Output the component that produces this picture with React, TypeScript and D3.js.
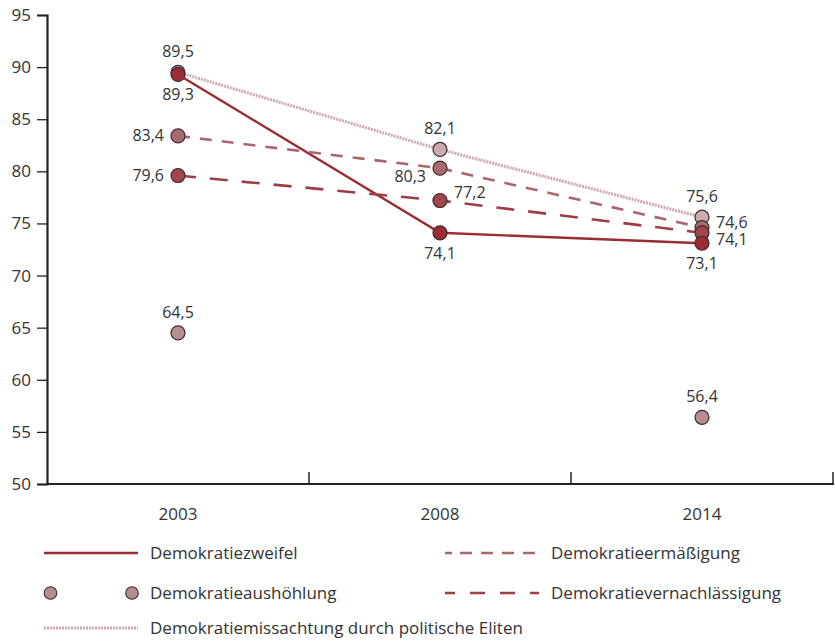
import React, { useEffect, useRef } from "react";
import * as d3 from "d3";

const years = ["2003", "2008", "2014"];
const yTicks = [50, 55, 60, 65, 70, 75, 80, 85, 90, 95];

const zweifel = [89.3, 74.1, 73.1];
const ermaessigung = [83.4, 80.3, 74.6];
const aushoehlung = [64.5, null, 56.4];
const vernachlaessigung = [79.6, 77.2, 74.1];
const missachtung = [89.5, 82.1, 75.6];

const seriesNames = [
  "Demokratiezweifel",
  "Demokratieermäßigung",
  "Demokratieaushöhlung",
  "Demokratievernachlässigung",
  "Demokratiemissachtung durch politische Eliten",
];

// where each value label sits relative to its point, per year
const labelSides = {
  zweifel: ["below", "below", "below"],
  ermaessigung: ["left", "belowleft", "right"],
  aushoehlung: ["above", "above", "above"],
  vernachlaessigung: ["left", "right", "rightlow"],
  missachtung: ["above", "above", "above"],
};

const W = 835;
const H = 641;
const font = "'Open Sans', 'Noto Sans', sans-serif";

const App = () => {
  const ref = useRef<SVGSVGElement>(null);

  useEffect(() => {
    const svg = d3.select(ref.current);
    svg.selectAll("*").remove();

    const x = d3.scaleBand().domain(years).range([47, 833]).padding(0);
    const y = d3.scaleLinear().domain([50, 95]).range([484, 15]);
    const cx = (i: number) => (x(years[i]) as number) + x.bandwidth() / 2;

    const series = [
      { key: "zweifel", values: zweifel, line: "#9b2c33", fill: "#9b2c33", dash: null, width: 2.4 },
      { key: "missachtung", values: missachtung, line: "#d0a9ae", fill: "#ccabae", dash: "2,1", width: 3 },
      { key: "ermaessigung", values: ermaessigung, line: "#a9666c", fill: "#a96a70", dash: "12,10", width: 2.6 },
      { key: "vernachlaessigung", values: vernachlaessigung, line: "#9f3d45", fill: "#a1464d", dash: "18,14", width: 2.6 },
      { key: "aushoehlung", values: aushoehlung, line: null, fill: "#b88d90", dash: null, width: 0 },
    ];

    // axes
    const yAxis = d3.axisLeft(y).tickValues(yTicks).tickSize(10).tickPadding(6);
    const gy = svg.append("g").attr("transform", "translate(47,0)").call(yAxis);
    gy.select(".domain").attr("stroke", "#222").attr("stroke-width", 2.2);
    gy.selectAll(".tick line").attr("stroke", "#222").attr("stroke-width", 1.3);
    gy.selectAll(".tick text")
      .attr("font-family", font)
      .attr("font-size", 17)
      .attr("fill", "#333");

    const gx = svg.append("g").attr("transform", "translate(0,484)");
    gx.append("line")
      .attr("x1", 46).attr("x2", 834)
      .attr("stroke", "#222").attr("stroke-width", 2.2);
    const bounds = years.map((d) => (x(d) as number) + x.bandwidth());
    gx.selectAll(".bt")
      .data(bounds)
      .join("line")
      .attr("x1", (d) => d).attr("x2", (d) => d)
      .attr("y1", 0).attr("y2", -12)
      .attr("stroke", "#222").attr("stroke-width", 1.5);
    gx.selectAll(".yl")
      .data(years)
      .join("text")
      .attr("x", (d, i) => cx(i))
      .attr("y", 36)
      .attr("text-anchor", "middle")
      .attr("font-family", font)
      .attr("font-size", 17)
      .attr("fill", "#333")
      .text((d) => d);

    // lines
    series.forEach((s) => {
      if (!s.line) return;
      const pts = s.values.map((v, i) => [cx(i), y(v as number)] as [number, number]);
      svg.append("path")
        .attr("d", d3.line()(pts))
        .attr("fill", "none")
        .attr("stroke", s.line)
        .attr("stroke-width", s.width)
        .attr("stroke-dasharray", s.dash);
    });

    // points, back to front
    const order = ["aushoehlung", "missachtung", "ermaessigung", "vernachlaessigung", "zweifel"];
    order.forEach((k) => {
      const s = series.find((d) => d.key === k)!;
      s.values.forEach((v, i) => {
        if (v == null) return;
        svg.append("circle")
          .attr("cx", cx(i))
          .attr("cy", y(v))
          .attr("r", 7)
          .attr("fill", s.fill)
          .attr("stroke", "#3b2b2c")
          .attr("stroke-width", 1.2);
      });
    });

    // value labels
    const fmt = (v: number) => v.toFixed(1).replace(".", ",");
    series.forEach((s) => {
      s.values.forEach((v, i) => {
        if (v == null) return;
        const side = labelSides[s.key][i];
        let tx = cx(i), ty = y(v), anchor = "middle";
        if (side === "above") ty -= 15;
        if (side === "below") ty += 26;
        if (side === "left") { tx -= 14; ty += 5; anchor = "end"; }
        if (side === "belowleft") { tx -= 14; ty += 14; anchor = "end"; }
        if (side === "right") { tx += 14; ty += (i === 2 ? 0 : -3); anchor = "start"; }
        if (side === "rightlow") { tx += 14; ty += 12; anchor = "start"; }
        svg.append("text")
          .attr("x", tx)
          .attr("y", ty)
          .attr("text-anchor", anchor)
          .attr("font-family", font)
          .attr("font-size", 16)
          .attr("fill", "#333")
          .text(fmt(v));
      });
    });

    // legend
    const lg = svg.append("g").attr("font-family", font).attr("font-size", 17).attr("fill", "#333");
    const legendLine = (x1: number, yy: number, s: any) => {
      lg.append("line")
        .attr("x1", x1).attr("x2", x1 + 94)
        .attr("y1", yy).attr("y2", yy)
        .attr("stroke", s.line)
        .attr("stroke-width", s.width)
        .attr("stroke-dasharray", s.dash);
    };
    const legendText = (x1: number, yy: number, t: string) => {
      lg.append("text").attr("x", x1).attr("y", yy).attr("dy", "0.35em").text(t);
    };
    const get = (k: string) => series.find((d) => d.key === k);
    legendLine(44, 553, get("zweifel"));
    legendText(150, 553, seriesNames[0]);
    legendLine(445, 553, { ...get("ermaessigung"), dash: "7,8,12,9,12,9,12,9,12" });
    legendText(551, 553, seriesNames[1]);
    [50.5, 132].forEach((px) =>
      lg.append("circle")
        .attr("cx", px).attr("cy", 593).attr("r", 6.3)
        .attr("fill", get("aushoehlung").fill)
        .attr("stroke", "#3b2b2c").attr("stroke-width", 1.1)
    );
    legendText(150, 593, seriesNames[2]);
    legendLine(445, 593, { ...get("vernachlaessigung"), dash: "10,15,15,15,15,15,15,15" });
    legendText(551, 593, seriesNames[3]);
    legendLine(44, 628, get("missachtung"));
    legendText(150, 628, seriesNames[4]);
  }, []);

  return (
    <svg
      ref={ref}
      width={W}
      height={H}
      style={{ position: "absolute", left: 0, top: 0, background: "#fff" }}
    ></svg>
  );
};

export default App;
